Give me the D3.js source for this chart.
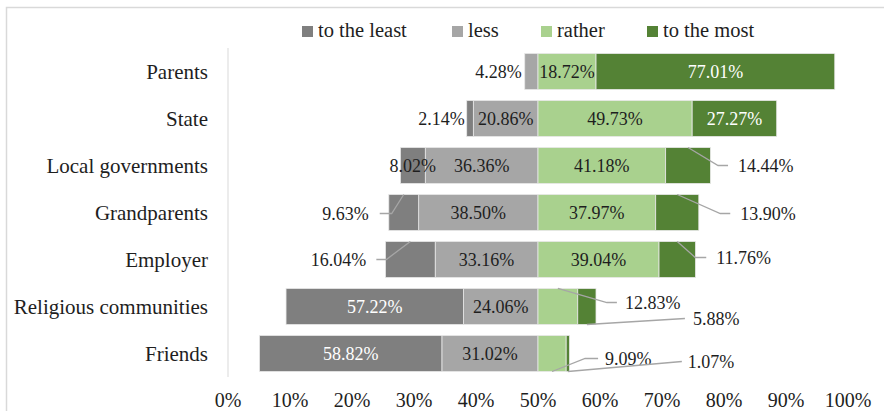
<!DOCTYPE html>
<html>
<head>
<meta charset="utf-8">
<script src="https://cdn.jsdelivr.net/npm/d3@7"></script>
<style>
  body { margin: 0; background: #fff; }
  svg { display: block; }
  #chart text { font-family: "Liberation Serif", "Times New Roman", serif !important; }
</style>
</head>
<body>
<svg id="chart" width="884" height="411"></svg>
<script>
// data
const categories = ["Parents", "State", "Local governments", "Grandparents", "Employer", "Religious communities", "Friends"];
const seriesKeys = ["least", "less", "rather", "most"];
const seriesNames = ["to the least", "less", "rather", "to the most"];
const leastVals = [0, 2.14, 8.02, 9.63, 16.04, 57.22, 58.82];
const lessVals = [4.28, 20.86, 36.36, 38.50, 33.16, 24.06, 31.02];
const ratherVals = [18.72, 49.73, 41.18, 37.97, 39.04, 12.83, 9.09];
const mostVals = [77.01, 27.27, 14.44, 13.90, 11.76, 5.88, 1.07];
const tickLabels = ["0%", "10%", "20%", "30%", "40%", "50%", "60%", "70%", "80%", "90%", "100%"];

const colors = {least: "#7f7f7f", less: "#a6a6a6", rather: "#a9d18e", most: "#548235"};
const textColor = "#1e1e1e";
const serif = "'Liberation Serif'";
const legendX = [302, 452, 541, 647];

// label placement (layout only)
const leaders = {
  "Local governments|most": {dx: 50, dy: 0, edge: "top", gap: 10, elbow: 10},
  "Grandparents|most": {dx: 63, dy: 1, edge: "top", gap: 10, elbow: 10},
  "Employer|most": {dx: 39, dy: -2, edge: "top", gap: 10, elbow: 11},
  "Grandparents|least": {dx: -35, dy: 1, edge: "top", gap: 11, elbow: 12},
  "Employer|least": {dx: -44, dy: 0, edge: "top", gap: 10, elbow: 10},
  "Religious communities|rather": {dx: 67, dy: -4, edge: "top", gap: 8, elbow: 10},
  "Religious communities|most": {dx: 106, dy: 12, edge: "bottom", gap: 8, elbow: 0},
  "Friends|rather": {dx: 53, dy: 5, edge: "bottom", gap: 7, elbow: 13},
  "Friends|most": {dx: 120, dy: 8, edge: "bottom", gap: 6, elbow: 0}
};
const outsideLeft = {"Parents|less": 3, "State|least": 2};
const whiteLabels = ["Parents|most", "State|most", "Religious communities|least", "Friends|least"];

const svg = d3.select("#chart");

// outer frame (cropped on right/bottom)
svg.append("rect")
  .attr("x", 6.5).attr("y", 7.5)
  .attr("width", 1000).attr("height", 1000)
  .attr("fill", "none")
  .attr("stroke", "#d9d9d9")
  .attr("stroke-width", 1.5);

const x = d3.scaleLinear().domain([-100, 100]).range([228, 848]);
const y = d3.scaleBand().domain(categories).range([48, 377])
  .paddingInner(0.234).paddingOuter(0.117);

// build segments
const segs = [];
categories.forEach((c, i) => {
  const lv = lessVals[i], tv = leastVals[i], rv = ratherVals[i], mv = mostVals[i];
  segs.push({cat: c, key: "less", v: lv, x0: -lv, x1: 0});
  segs.push({cat: c, key: "least", v: tv, x0: -(lv + tv), x1: -lv});
  segs.push({cat: c, key: "rather", v: rv, x0: 0, x1: rv});
  segs.push({cat: c, key: "most", v: mv, x0: rv, x1: rv + mv});
});
const shown = segs.filter(d => d.v > 0);

// vertical axis line
svg.append("line")
  .attr("x1", x(-100)).attr("x2", x(-100))
  .attr("y1", 48).attr("y2", 377)
  .attr("stroke", "#d9d9d9").attr("stroke-width", 1);

// bars
svg.append("g")
  .selectAll("rect")
  .data(shown)
  .enter().append("rect")
  .attr("x", d => x(d.x0))
  .attr("y", d => y(d.cat))
  .attr("width", d => x(d.x1) - x(d.x0))
  .attr("height", y.bandwidth())
  .attr("fill", d => colors[d.key])
  .attr("stroke", "#e8e8e8")
  .attr("stroke-width", 0.8);

function addText(g, tx, ty, str, anchor, fill, size) {
  return g.append("text")
    .attr("x", tx).attr("y", ty)
    .attr("dy", "0.35em")
    .attr("text-anchor", anchor)
    .attr("fill", fill)
    .style("font-family", serif)
    .attr("font-size", size)
    .text(str);
}

// data labels
const lg = svg.append("g");
shown.forEach(d => {
  const id = d.cat + "|" + d.key;
  const cx = (x(d.x0) + x(d.x1)) / 2;
  const cy = y(d.cat) + y.bandwidth() / 2;
  const label = d.v.toFixed(2) + "%";
  const fill = whiteLabels.includes(id) ? "#fff" : textColor;
  if (leaders[id]) {
    const L = leaders[id];
    const ax = cx + L.dx, ay = cy + L.dy;
    const right = L.dx > 0;
    const s = right ? 1 : -1;
    const ey = L.edge === "top" ? y(d.cat) : y(d.cat) + y.bandwidth();
    const pts = [[cx, ey]];
    if (L.elbow > 0) pts.push([ax - s * (L.gap + L.elbow), ay]);
    pts.push([ax - s * L.gap, ay]);
    lg.append("path")
      .attr("d", d3.line()(pts))
      .attr("fill", "none")
      .attr("stroke", "#a6a6a6")
      .attr("stroke-width", 1.3);
    addText(lg, ax, ay, label, right ? "start" : "end", textColor, 18);
  } else if (outsideLeft[id] !== undefined) {
    const i = categories.indexOf(d.cat);
    const bx = x(-(leastVals[i] + lessVals[i]));
    addText(lg, bx - outsideLeft[id], cy, label, "end", fill, 18);
  } else {
    addText(lg, cx, cy, label, "middle", fill, 18);
  }
});

// category labels
const cg = svg.append("g");
categories.forEach(c => {
  addText(cg, 208, y(c) + y.bandwidth() / 2, c, "end", textColor, 21);
});

// x tick labels (0%..100% across the diverging range)
const tickVals = d3.range(-100, 101, 20);
const tg = svg.append("g");
tickVals.forEach((v, i) => {
  addText(tg, x(v), 400, tickLabels[i], "middle", textColor, 20);
});

// legend
const legend = svg.append("g");
seriesKeys.forEach((k, i) => {
  legend.append("rect")
    .attr("x", legendX[i]).attr("y", 26)
    .attr("width", 11).attr("height", 11)
    .attr("fill", colors[k]);
  legend.append("text")
    .attr("x", legendX[i] + 16).attr("y", 37)
    .attr("fill", textColor)
    .style("font-family", serif)
    .attr("font-size", 20.5)
    .text(seriesNames[i]);
});
</script>
</body>
</html>
